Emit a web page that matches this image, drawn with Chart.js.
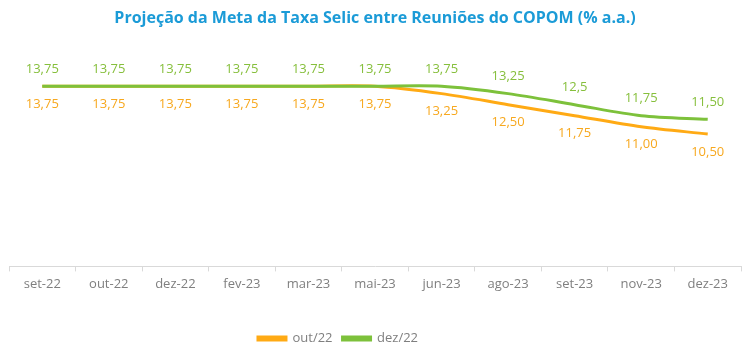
<!DOCTYPE html>
<html>
<head>
<meta charset="utf-8">
<script src="https://cdn.jsdelivr.net/npm/chart.js@4.4.0/dist/chart.umd.min.js"></script>
<style>
html,body{margin:0;padding:0;background:#fff;}
#wrap{width:750px;height:355px;position:relative;}
</style>
</head>
<body>
<div id="wrap"><canvas id="c" width="750" height="355"></canvas></div>
<script>
const categories = ["set-22","out-22","dez-22","fev-23","mar-23","mai-23","jun-23","ago-23","set-23","nov-23","dez-23"];
const serieOut22 = [13.75,13.75,13.75,13.75,13.75,13.75,13.25,12.50,11.75,11.00,10.50];
const serieDez22 = [13.75,13.75,13.75,13.75,13.75,13.75,13.75,13.25,12.5,11.75,11.50];
const labelsOut22 = ["13,75","13,75","13,75","13,75","13,75","13,75","13,25","12,50","11,75","11,00","10,50"];
const labelsDez22 = ["13,75","13,75","13,75","13,75","13,75","13,75","13,75","13,25","12,5","11,75","11,50"];

const ORANGE = "#FFAA14";
const GREEN = "#7DC13B";

const labelPlugin = {
  id: "pointLabels",
  afterDatasetsDraw(chart) {
    const ctx = chart.ctx;
    chart.data.datasets.forEach((ds, i) => {
      const meta = chart.getDatasetMeta(i);
      const labels = ds.pointLabels;
      const off = ds.labelOffset;
      ctx.save();
      ctx.font = "13px 'Open Sans', sans-serif";
      ctx.fillStyle = ds.labelColor;
      ctx.textAlign = "center";
      ctx.textBaseline = "middle";
      meta.data.forEach((pt, j) => {
        ctx.fillText(labels[j], pt.x, pt.y + off);
      });
      ctx.restore();
    });
  }
};

const legendShift = {
  id: "legendShift",
  afterLayout(chart) {
    if (chart.legend) { chart.legend.right -= 74; }
  }
};

new Chart(document.getElementById("c"), {
  type: "line",
  data: {
    labels: categories,
    datasets: [
      {
        label: "out/22",
        data: serieOut22,
        borderColor: ORANGE,
        backgroundColor: ORANGE,
        borderWidth: 3,
        pointRadius: 0,
        tension: 0.3,
        order: 1,
        pointLabels: labelsOut22,
        labelOffset: 18,
        labelColor: "#F7A81E"
      },
      {
        label: "dez/22",
        data: serieDez22,
        borderColor: GREEN,
        backgroundColor: GREEN,
        borderWidth: 3,
        pointRadius: 0,
        tension: 0.3,
        order: 0,
        pointLabels: labelsDez22,
        labelOffset: -17,
        labelColor: "#86BF3C"
      }
    ]
  },
  options: {
    responsive: false,
    animation: false,
    layout: { padding: { left: 9, right: 9, top: 0, bottom: 0 } },
    plugins: {
      title: {
        display: true,
        text: "Projeção da Meta da Taxa Selic entre Reuniões do COPOM (% a.a.)",
        color: "#1B9BD7",
        font: { family: "'Open Sans', sans-serif", size: 16, weight: "bold" },
        padding: { top: 9, bottom: 25 }
      },
      legend: {
        position: "bottom",
        labels: {
          boxWidth: 28,
          boxHeight: 3,
          color: "#7F7F7F",
          font: { family: "'Open Sans', sans-serif", size: 13 },
          padding: 10,
          sort: (a, b) => a.datasetIndex - b.datasetIndex
        }
      },
      tooltip: { enabled: false }
    },
    scales: {
      x: {
        offset: true,
        afterFit(scale) { scale.height += 25; },
        grid: {
          display: true,
          drawOnChartArea: false,
          drawTicks: true,
          tickLength: 5,
          color: "#D9D9D9",
          offset: true
        },
        border: { display: true, color: "#D9D9D9", width: 1 },
        ticks: {
          color: "#7F7F7F",
          font: { family: "'Open Sans', sans-serif", size: 13 },
          padding: 5,
          maxRotation: 0
        }
      },
      y: {
        display: false,
        min: 1.5,
        max: 16
      }
    }
  },
  plugins: [labelPlugin, legendShift]
});
</script>
</body>
</html>
